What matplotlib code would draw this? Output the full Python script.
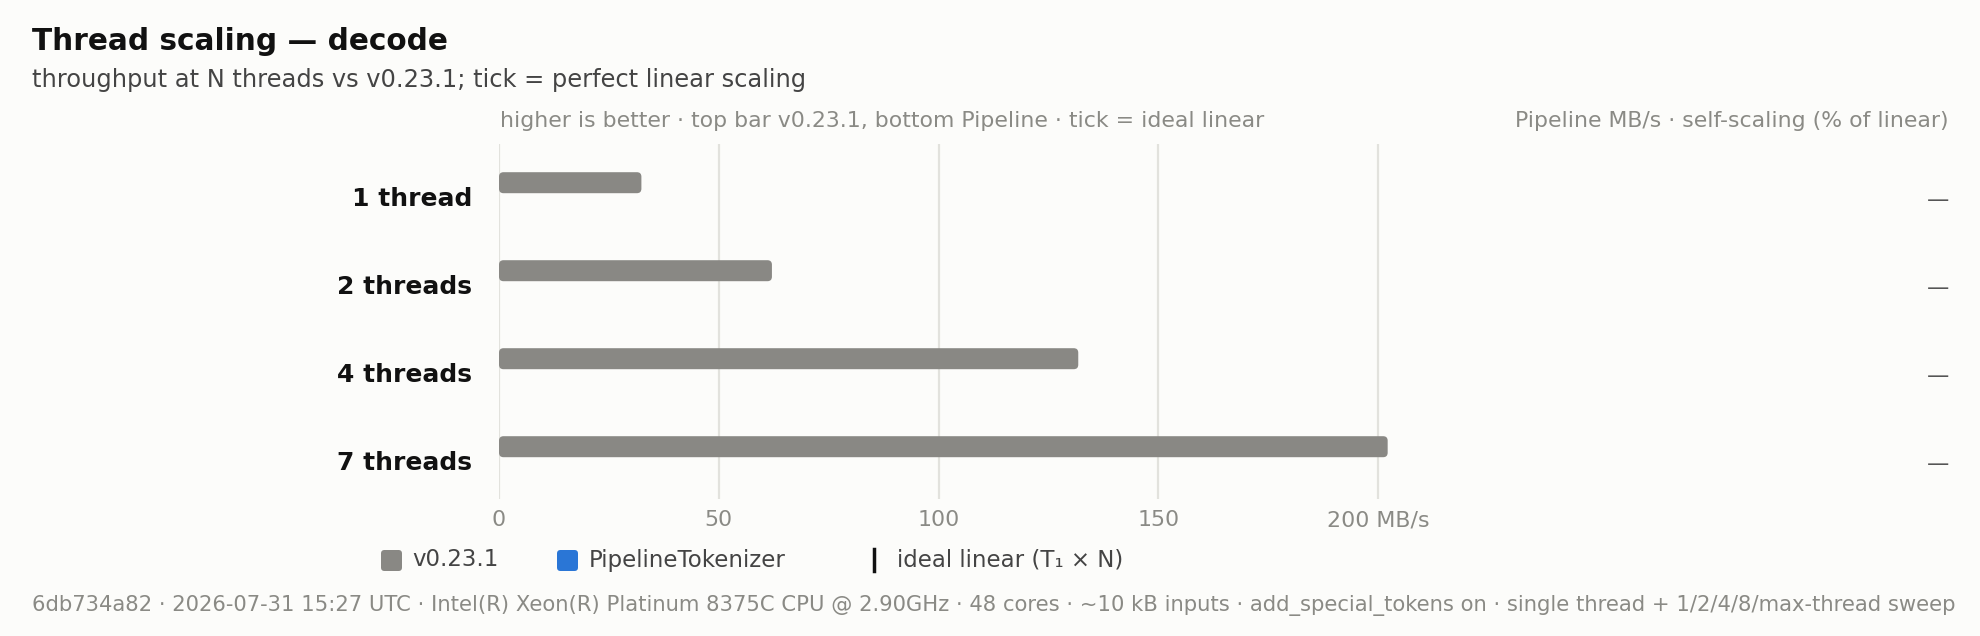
import matplotlib
matplotlib.use("Agg")
import matplotlib.pyplot as plt
from matplotlib.patches import FancyBboxPatch
from matplotlib.lines import Line2D

# ---- data ----
categories = ["1 thread", "2 threads", "4 threads", "7 threads"]
v0231_mbps = [32.4, 62.1, 131.8, 202.2]
pipeline_mbps = [None, None, None, None]
x_ticks = [0, 50, 100, 150, 200]
x_tick_labels = ["0", "50", "100", "150", "200 MB/s"]

title = "Thread scaling \u2014 decode"
subtitle = "throughput at N threads vs v0.23.1; tick = perfect linear scaling"
left_header = "higher is better \u00b7 top bar v0.23.1, bottom Pipeline \u00b7 tick = ideal linear"
right_header = "Pipeline MB/s \u00b7 self-scaling (% of linear)"
legend_labels = ["v0.23.1", "PipelineTokenizer", "ideal linear (T\u2081 \u00d7 N)"]
footer = ("6db734a82 \u00b7 2026-07-31 15:27 UTC \u00b7 Intel(R) Xeon(R) Platinum 8375C CPU @ 2.90GHz \u00b7 "
          "48 cores \u00b7 ~10 kB inputs \u00b7 add_special_tokens on \u00b7 single thread + 1/2/4/8/max-thread sweep")

# ---- style ----
W, H, DPI = 1980, 636, 100
BG = "#fcfcfa"
GRAY = "#898884"
BLUE = "#2a76d6"
MUTED = "#8a8a85"
GRID = "#e2e2dd"

plt.rcParams["font.family"] = ["DejaVu Sans"]
fig = plt.figure(figsize=(W / DPI, H / DPI), dpi=DPI, facecolor=BG)

def fx(px):
    return px / W

def fy(py):
    return 1 - py / H

# axes placement in pixels
ax_left, ax_top, ax_bottom = 499, 144, 499
px_per_unit = 4.395
xmax = 210
ax_right = ax_left + xmax * px_per_unit
ax = fig.add_axes([fx(ax_left), fy(ax_bottom), fx(ax_right - ax_left), (ax_bottom - ax_top) / H])
ax.set_facecolor(BG)

row_px = 88.0
ax.set_xlim(0, xmax)
ax.set_ylim((ax_bottom - 199) / row_px, (ax_top - 199) / row_px)
for s in ax.spines.values():
    s.set_visible(False)
ax.tick_params(left=False, bottom=False, labelleft=False, labelbottom=False)

for t in x_ticks:
    ax.axvline(t, color=GRID, lw=1.6, zorder=0)

bar_h = 21 / row_px
offset = -16.3 / row_px
ypos = list(range(len(categories)))
bars = ax.barh([y + offset for y in ypos], v0231_mbps, height=bar_h, color=GRAY, zorder=2)

# replace rectangles with rounded ones
unit_y_per_px = 1 / row_px
unit_x_per_px = 1 / px_per_unit
aspect = unit_y_per_px / unit_x_per_px
for b in bars:
    x0, y0 = b.get_x(), b.get_y()
    w, h = b.get_width(), b.get_height()
    b.set_visible(False)
    p = FancyBboxPatch((x0, y0), w, h,
                       boxstyle="round,pad=0,rounding_size=%f" % (4.5 * unit_x_per_px),
                       mutation_aspect=aspect, facecolor=GRAY, edgecolor="none", zorder=2)
    ax.add_patch(p)

# x tick labels
for t, lab in zip(x_ticks, x_tick_labels):
    ax.text(t, (520 - 199) / row_px, lab, ha="center", va="center",
            fontsize=15.9, color=MUTED, clip_on=False)

# category labels
for y, c in zip(ypos, categories):
    fig.text(fx(472), fy(199 + y * row_px), c, ha="right", va="center",
             fontsize=18.0, fontweight="bold", color="#111111")

# right column values
for y, v in zip(ypos, pipeline_mbps):
    s = "\u2014" if v is None else "%.0f" % v
    fig.text(fx(1949), fy(200 + y * row_px), s, ha="right", va="center",
             fontsize=16, color="#555555")

# headers
fig.text(fx(32), fy(41), title, ha="left", va="center", fontsize=21.3, fontweight="bold", color="#111111")
fig.text(fx(32), fy(80), subtitle, ha="left", va="center", fontsize=17.35, color="#444444")
fig.text(fx(500), fy(121), left_header, ha="left", va="center", fontsize=15.85, color=MUTED)
fig.text(fx(1949), fy(121), right_header, ha="right", va="center", fontsize=15.85, color=MUTED)

# legend
def legend_square(x, color):
    p = FancyBboxPatch((fx(x), fy(571)), fx(21), 21 / H,
                       boxstyle="round,pad=0,rounding_size=%f" % fx(3.5),
                       mutation_aspect=W / H, transform=fig.transFigure,
                       facecolor=color, edgecolor="none")
    fig.patches.append(p)

legend_square(381, GRAY)
fig.text(fx(412), fy(560), legend_labels[0], ha="left", va="center", fontsize=16.5, color="#444444")
legend_square(557, BLUE)
fig.text(fx(589), fy(560), legend_labels[1], ha="left", va="center", fontsize=16.5, color="#444444")
fig.add_artist(Line2D([fx(874), fx(874)], [fy(549), fy(571)], transform=fig.transFigure,
                      color="#111111", lw=2.5))
fig.text(fx(897), fy(560), legend_labels[2], ha="left", va="center", fontsize=16.5, color="#444444")

# footer
fig.text(fx(32), fy(605), footer, ha="left", va="center", fontsize=15.2, color=MUTED)

fig.savefig("out.png", dpi=DPI, facecolor=BG)
